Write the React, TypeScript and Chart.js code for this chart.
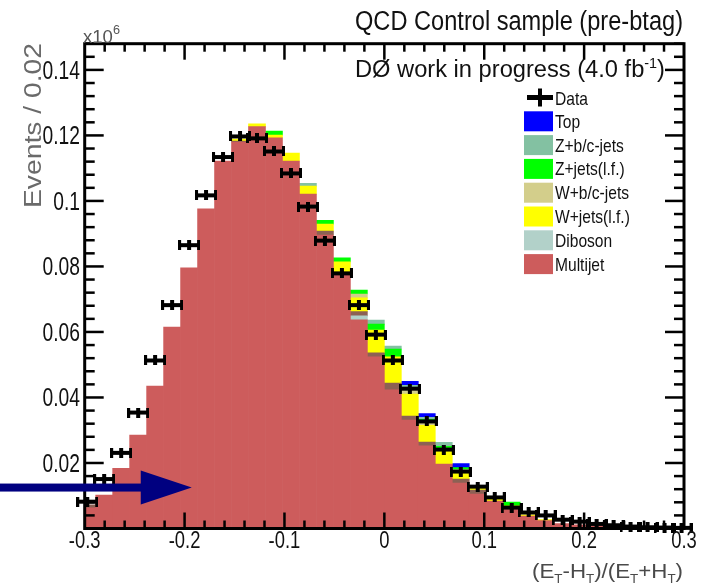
import { useEffect, useRef } from 'react';
import { Chart, registerables } from 'chart.js';

Chart.register(...registerables);

// Binning of the discriminant (E_T - H_T)/(E_T + H_T): 36 bins of 0.017
const BIN_LOW = -0.306;
const BIN_WIDTH = 0.017;

// Stacked expectation per bin (events, x10^6)
const multijet = [
  0.0063, 0.0102, 0.0184, 0.0285, 0.0435, 0.0615, 0.0796, 0.0976, 0.1122, 0.118,
  0.1227, 0.1193, 0.1122, 0.1021, 0.0896, 0.0777, 0.0637, 0.0524, 0.0423, 0.0331,
  0.0252, 0.0197, 0.0139, 0.0105, 0.0084, 0.0058, 0.0038, 0.0024, 0.0015, 0.0011,
  0.0008, 0.0005, 0.0004, 0.0003, 0.0002, 0.0001,
];
const diboson = [
  0, 0, 0, 0, 0, 0, 0, 0, 0, 0,
  0, 0, 0, 0, 0, 0, 0.0012, 0, 0, 0,
  0, 0, 0, 0, 0, 0, 0, 0, 0, 0,
  0, 0, 0, 0, 0, 0,
];
const otherBkg = [
  0.0009, 0, 0, 0, 0, 0, 0, 0, 0, 0.0003,
  0, 0, 0, 0, 0.0012, 0, 0.0013, 0.0012, 0.0021, 0.0012,
  0.0012, 0, 0.0012, 0.0012, 0, 0.0004, 0, 0, 0, 0,
  0, 0, 0, 0, 0, 0,
];
const wJetsLF = [
  0, 0, 0, 0, 0, 0, 0, 0, 0, 0.0006,
  0.0008, 0.0008, 0.0024, 0.0024, 0.0021, 0.0037, 0.0042, 0.007, 0.008, 0.0067,
  0.0051, 0.004, 0.0025, 0.0012, 0.0008, 0.0007, 0.0004, 0.0003, 0, 0,
  0, 0, 0, 0, 0, 0,
];
const wJetsBC = [
  0, 0, 0, 0, 0, 0, 0, 0, 0, 0,
  0, 0, 0, 0, 0, 0, 0.0012, 0, 0, 0.0012,
  0.0009, 0.0006, 0.0004, 0, 0, 0, 0, 0, 0, 0,
  0, 0, 0, 0, 0, 0,
];
const zJetsLF = [
  0, 0, 0, 0, 0, 0, 0, 0, 0, 0,
  0, 0.0012, 0, 0, 0.0012, 0.0012, 0.0012, 0.0018, 0.0024, 0.0009,
  0.0009, 0.0008, 0.0006, 0, 0.0003, 0.0012, 0, 0, 0, 0,
  0, 0, 0, 0, 0, 0,
];
const zJetsBC = [
  0, 0, 0, 0, 0, 0, 0, 0, 0, 0,
  0, 0, 0, 0.0009, 0, 0, 0, 0.0012, 0.0009, 0.0006,
  0.0006, 0.0012, 0, 0, 0, 0, 0, 0, 0, 0,
  0, 0, 0, 0, 0, 0,
];
const topPair = [
  0, 0, 0, 0, 0, 0, 0, 0, 0, 0,
  0, 0, 0, 0, 0, 0, 0, 0, 0, 0.0012,
  0.0012, 0, 0.0012, 0, 0, 0, 0, 0, 0, 0,
  0, 0, 0, 0, 0, 0,
];

// Observed events per bin
const dataCounts = [
  0.0082, 0.0151, 0.0231, 0.0354, 0.0513, 0.0682, 0.0865, 0.1017, 0.1134, 0.1197,
  0.1191, 0.1151, 0.1084, 0.0983, 0.0879, 0.0779, 0.0682, 0.0592, 0.0513, 0.0427,
  0.0327, 0.0241, 0.0174, 0.0128, 0.0095, 0.0064, 0.0049, 0.004, 0.0027, 0.0021,
  0.0014, 0.001, 0.0006, 0.0004, 0.0003, 0.0002,
];

const xTickLabels = ['-0.3', '-0.2', '-0.1', '0', '0.1', '0.2', '0.3'];
const yTickLabels = ['0.02', '0.04', '0.06', '0.08', '0.1', '0.12', '0.14'];

// Cut position marked by the arrow
const CUT_VALUE = -0.1928;
const ARROW_LEVEL = 0.0125;

const X_MIN = -0.3;
const X_MAX = 0.3;
const Y_MAX = 0.148;

const stackDefs = [
  { label: 'Multijet', values: multijet, color: '#cd5c5c' },
  { label: 'Diboson', values: diboson, color: '#b2d1c9' },
  { label: 'Other', values: otherBkg, color: '#8c6154' },
  { label: 'W+jets(l.f.)', values: wJetsLF, color: '#ffff00' },
  { label: 'W+b/c-jets', values: wJetsBC, color: '#d3ce8b' },
  { label: 'Z+jets(l.f.)', values: zJetsLF, color: '#00ff00' },
  { label: 'Z+b/c-jets', values: zJetsBC, color: '#83c1a2' },
  { label: 'Top', values: topPair, color: '#0000ff' },
];
const legendOrder = ['Top', 'Z+b/c-jets', 'Z+jets(l.f.)', 'W+b/c-jets', 'W+jets(l.f.)', 'Diboson', 'Multijet'];

const FONT = '"Liberation Sans", Arial, Helvetica, sans-serif';

type Run = { t: string; size: number; dy?: number };
type TextOpts = { width?: number; sx?: number; align?: 'left' | 'center' | 'right'; color?: string; angle?: number };

function drawRuns(ctx: CanvasRenderingContext2D, runs: Run[], x: number, y: number, opts: TextOpts) {
  const widths = runs.map((r) => {
    ctx.font = `${r.size}px ${FONT}`;
    return ctx.measureText(r.t).width;
  });
  const natural = widths.reduce((a, b) => a + b, 0);
  const sx = opts.width ? opts.width / natural : opts.sx ?? 1;
  const shift = opts.align === 'right' ? -natural : opts.align === 'center' ? -natural / 2 : 0;
  ctx.save();
  ctx.translate(x, y);
  if (opts.angle) ctx.rotate(opts.angle);
  ctx.scale(sx, 1);
  ctx.fillStyle = opts.color ?? '#111';
  ctx.textAlign = 'left';
  ctx.textBaseline = 'alphabetic';
  let cx = shift;
  runs.forEach((r, i) => {
    ctx.font = `${r.size}px ${FONT}`;
    ctx.fillText(r.t, cx, r.dy ?? 0);
    cx += widths[i];
  });
  ctx.restore();
}

const frameAndLabels = {
  id: 'frameAndLabels',
  afterDatasetsDraw(chart: Chart) {
    const ctx = chart.ctx;
    const { left, right, top, bottom } = chart.chartArea;
    const xs = chart.scales.x;
    const ys = chart.scales.y;

    ctx.save();
    ctx.strokeStyle = '#000';
    ctx.lineCap = 'butt';
    const seg = (x1: number, y1: number, x2: number, y2: number) => {
      ctx.beginPath();
      ctx.moveTo(x1, y1);
      ctx.lineTo(x2, y2);
      ctx.stroke();
    };

    // inward ticks on all four sides
    ctx.lineWidth = 2.5;
    for (let i = 1; i < 30; i++) {
      const px = xs.getPixelForValue(X_MIN + 0.02 * i);
      const len = i % 5 === 0 ? 16 : 8;
      seg(px, bottom, px, bottom - len);
      seg(px, top, px, top + len);
    }
    for (let j = 1; j <= 37; j++) {
      const py = ys.getPixelForValue(0.004 * j);
      const len = j % 5 === 0 ? 19 : 10;
      seg(left, py, left + len, py);
      seg(right, py, right - len, py);
    }
    ctx.lineWidth = 3;
    ctx.strokeRect(left, top, right - left, bottom - top);
    ctx.restore();

    // tick labels
    xTickLabels.forEach((lab) => {
      const px = xs.getPixelForValue(parseFloat(lab));
      drawRuns(ctx, [{ t: lab, size: 23 }], px, 548, { sx: 0.8, align: 'center' });
    });
    yTickLabels.forEach((lab) => {
      const py = ys.getPixelForValue(parseFloat(lab));
      drawRuns(ctx, [{ t: lab, size: 25 }], 80, py + 9, { sx: 0.77, align: 'right' });
    });

    // axis titles and exponent
    drawRuns(ctx, [{ t: 'x10', size: 19 }, { t: '6', size: 13, dy: -9 }], 83, 43, { width: 37, color: '#555' });
    drawRuns(ctx, [{ t: 'Events / 0.02', size: 23 }], 41, 208, { width: 165, color: '#6a6a6a', angle: -Math.PI / 2 });
    drawRuns(
      ctx,
      [
        { t: '(E', size: 20 },
        { t: 'T', size: 12, dy: 5 },
        { t: '-H', size: 20 },
        { t: 'T', size: 12, dy: 5 },
        { t: ')/(E', size: 20 },
        { t: 'T', size: 12, dy: 5 },
        { t: '+H', size: 20 },
        { t: 'T', size: 12, dy: 5 },
        { t: ')', size: 20 },
      ],
      532,
      578,
      { width: 151, color: '#4a4a4a' }
    );

    // headings
    drawRuns(ctx, [{ t: 'QCD Control sample (pre-btag)', size: 27 }], 355, 30, { width: 328 });
    drawRuns(
      ctx,
      [
        { t: 'DØ work in progress (4.0 fb', size: 23 },
        { t: '-1', size: 14, dy: -9 },
        { t: ')', size: 23 },
      ],
      355,
      77,
      { width: 310 }
    );

    // legend
    const rowY = (i: number) => 97.5 + 23.8 * i;
    ctx.save();
    ctx.fillStyle = '#000';
    ctx.fillRect(527, rowY(0) - 2.5, 26, 5);
    ctx.fillRect(538, rowY(0) - 9, 4, 18);
    ctx.restore();
    drawRuns(ctx, [{ t: 'Data', size: 19 }], 555, rowY(0) + 7, { sx: 0.82 });
    legendOrder.forEach((label, i) => {
      const def = stackDefs.find((d) => d.label === label);
      if (!def) return;
      const cy = rowY(i + 1);
      ctx.save();
      ctx.fillStyle = def.color;
      ctx.fillRect(524, cy - 10, 29, 20);
      ctx.restore();
      drawRuns(ctx, [{ t: label, size: 19 }], 555, cy + 6.5, { sx: 0.82 });
    });

    // arrow marking the cut
    const ay = ys.getPixelForValue(ARROW_LEVEL);
    const tipX = xs.getPixelForValue(CUT_VALUE);
    const baseX = tipX - 51;
    ctx.save();
    ctx.fillStyle = '#000080';
    ctx.fillRect(0, ay - 4, baseX + 1, 8);
    ctx.beginPath();
    ctx.moveTo(baseX, ay - 17);
    ctx.lineTo(tipX, ay);
    ctx.lineTo(baseX, ay + 17);
    ctx.closePath();
    ctx.fill();
    ctx.restore();
  },
};

function makeDataMarker(): HTMLCanvasElement {
  const c = document.createElement('canvas');
  c.width = 22;
  c.height = 10;
  const m = c.getContext('2d')!;
  m.fillStyle = '#000';
  m.fillRect(0, 3, 22, 4); // horizontal bar across the bin
  m.fillRect(0, 0, 3, 10); // left end cap
  m.fillRect(19, 0, 3, 10); // right end cap
  m.fillRect(9, 0, 4, 10); // vertical error bar
  return c;
}

export default function App() {
  const ref = useRef<HTMLCanvasElement>(null);

  useEffect(() => {
    const canvas = ref.current;
    if (!canvas) return;

    const centers = multijet.map((_, i) => BIN_LOW + BIN_WIDTH * (i + 0.5));
    const marker = makeDataMarker();

    const barSets = stackDefs.map((d) => ({
      type: 'bar' as const,
      label: d.label,
      data: d.values.map((v, i) => ({ x: centers[i], y: v === 0 ? null : v })),
      backgroundColor: d.color,
      borderWidth: 0,
      barPercentage: 1,
      categoryPercentage: 1,
      clip: 0,
      order: 2,
    }));

    const dataSet = {
      type: 'scatter' as const,
      label: 'Data',
      data: dataCounts.map((v, i) => ({ x: centers[i], y: v })),
      pointStyle: marker,
      pointRadius: 5,
      showLine: false,
      clip: false,
      order: 1,
    };

    const chart = new Chart(canvas, {
      type: 'bar',
      data: { datasets: [...barSets, dataSet] as any },
      options: {
        animation: false,
        responsive: false,
        devicePixelRatio: 1,
        events: [],
        layout: { padding: { left: 84.7, right: 17, top: 43.7, bottom: 57.5 } },
        plugins: {
          legend: { display: false },
          tooltip: { enabled: false },
          title: { display: false },
        },
        scales: {
          x: { type: 'linear', min: X_MIN, max: X_MAX, offset: false, stacked: true, display: false },
          y: { type: 'linear', min: 0, max: Y_MAX, stacked: true, display: false },
        },
      },
      plugins: [frameAndLabels],
    });

    return () => chart.destroy();
  }, []);

  return (
    <div style={{ position: 'absolute', left: 0, top: 0, width: 701, height: 586, background: '#fff' }}>
      <canvas ref={ref} width={701} height={586} style={{ display: 'block', width: 701, height: 586 }} />
    </div>
  );
}
